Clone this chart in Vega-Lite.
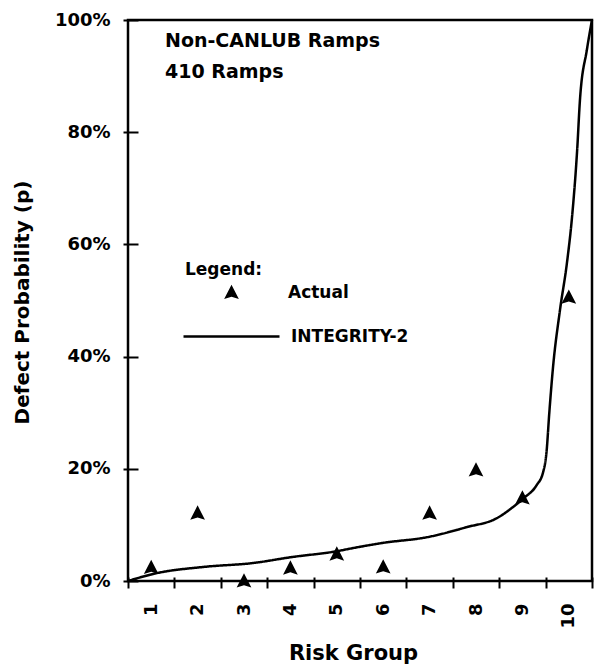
{
  "$schema": "https://vega.github.io/schema/vega-lite/v6.json",
  "width": 464,
  "height": 561,
  "autosize": {"type": "none"},
  "padding": {"left": 128, "top": 20, "right": 4, "bottom": 85},
  "background": "white",
  "config": {
    "font": "DejaVu Sans",
    "view": {"stroke": "black", "strokeWidth": 2.5},
    "axis": {
      "labelFont": "DejaVu Sans",
      "labelFontWeight": "bold",
      "labelFontSize": 18,
      "labelColor": "black",
      "titleFont": "DejaVu Sans",
      "titleFontWeight": "bold",
      "titleColor": "black",
      "tickColor": "black",
      "tickWidth": 2,
      "grid": false
    },
    "legend": {
      "labelFont": "DejaVu Sans",
      "labelFontWeight": "bold",
      "labelFontSize": 17,
      "labelColor": "black",
      "titleFont": "DejaVu Sans",
      "titleFontWeight": "bold",
      "titleFontSize": 17,
      "titleColor": "black",
      "padding": 0
    }
  },
  "title": {
    "text": ["Non-CANLUB Ramps", "410 Ramps"],
    "frame": "group",
    "anchor": "start",
    "orient": "top",
    "baseline": "top",
    "offset": -71,
    "dx": 37,
    "lineHeight": 31,
    "font": "DejaVu Sans",
    "fontSize": 19,
    "fontWeight": "bold",
    "color": "black"
  },
  "layer": [
    {
      "data": {
        "values": [
          {"risk_group": 0.5, "p": 0, "series": "INTEGRITY-2"},
          {"risk_group": 1.12, "p": 1.4, "series": "INTEGRITY-2"},
          {"risk_group": 2.12, "p": 2.5, "series": "INTEGRITY-2"},
          {"risk_group": 3.19, "p": 3.2, "series": "INTEGRITY-2"},
          {"risk_group": 4.06, "p": 4.3, "series": "INTEGRITY-2"},
          {"risk_group": 4.92, "p": 5.2, "series": "INTEGRITY-2"},
          {"risk_group": 5.5, "p": 6.1, "series": "INTEGRITY-2"},
          {"risk_group": 6.0, "p": 6.8, "series": "INTEGRITY-2"},
          {"risk_group": 6.94, "p": 7.8, "series": "INTEGRITY-2"},
          {"risk_group": 7.8, "p": 9.6, "series": "INTEGRITY-2"},
          {"risk_group": 8.45, "p": 11.2, "series": "INTEGRITY-2"},
          {"risk_group": 8.8, "p": 13.2, "series": "INTEGRITY-2"},
          {"risk_group": 9.05, "p": 14.9, "series": "INTEGRITY-2"},
          {"risk_group": 9.3, "p": 17.0, "series": "INTEGRITY-2"},
          {"risk_group": 9.45, "p": 19.5, "series": "INTEGRITY-2"},
          {"risk_group": 9.52, "p": 23.0, "series": "INTEGRITY-2"},
          {"risk_group": 9.58, "p": 30.0, "series": "INTEGRITY-2"},
          {"risk_group": 9.66, "p": 38.1, "series": "INTEGRITY-2"},
          {"risk_group": 9.81, "p": 48.3, "series": "INTEGRITY-2"},
          {"risk_group": 9.96, "p": 56.7, "series": "INTEGRITY-2"},
          {"risk_group": 10.07, "p": 64.9, "series": "INTEGRITY-2"},
          {"risk_group": 10.18, "p": 76.8, "series": "INTEGRITY-2"},
          {"risk_group": 10.24, "p": 85.7, "series": "INTEGRITY-2"},
          {"risk_group": 10.39, "p": 94.7, "series": "INTEGRITY-2"},
          {"risk_group": 10.5, "p": 100, "series": "INTEGRITY-2"}
        ]
      },
      "mark": {"type": "line", "color": "black", "strokeWidth": 2.5, "interpolate": "monotone"},
      "encoding": {
        "x": {
          "field": "risk_group",
          "type": "quantitative",
          "scale": {"domain": [0.5, 10.5], "nice": false, "zero": false},
          "axis": {
            "values": [1, 2, 3, 4, 5, 6, 7, 8, 9, 10],
            "format": "d",
            "orient": "bottom",
            "domain": false,
            "ticks": false,
            "tickSize": 0,
            "labelAngle": -90,
            "labelPadding": 22,
            "title": "Risk Group",
            "titleFontSize": 21,
            "titleX": 225,
            "titleY": 78,
            "titleBaseline": "alphabetic",
            "titleAlign": "center"
          }
        },
        "y": {
          "field": "p",
          "type": "quantitative",
          "scale": {"domain": [0, 100], "nice": false},
          "axis": {
            "values": [0, 20, 40, 60, 80, 100],
            "labelExpr": "datum.value + '%'",
            "orient": "left",
            "domain": false,
            "tickSize": 15,
            "offset": -10,
            "labelPadding": 13,
            "title": "Defect Probability (p)",
            "titleFontSize": 20,
            "titleAngle": -90,
            "titleX": -116,
            "titleY": 282,
            "titleAlign": "center",
            "titleBaseline": "middle"
          }
        },
        "strokeDash": {
          "field": "series",
          "type": "nominal",
          "scale": {"domain": ["INTEGRITY-2"], "range": [[1, 0]]},
          "legend": {
            "orient": "none",
            "legendX": 54,
            "legendY": 267,
            "title": null,
            "symbolType": "stroke",
            "symbolSize": 9216,
            "symbolStrokeColor": "black",
            "symbolStrokeWidth": 2.5,
            "labelOffset": 10
          }
        }
      }
    },
    {
      "data": {
        "values": [
          {"risk_group": 1, "p": 2.4, "series": "Actual"},
          {"risk_group": 2, "p": 12.1, "series": "Actual"},
          {"risk_group": 3, "p": 0, "series": "Actual"},
          {"risk_group": 4, "p": 2.3, "series": "Actual"},
          {"risk_group": 5, "p": 4.8, "series": "Actual"},
          {"risk_group": 6, "p": 2.5, "series": "Actual"},
          {"risk_group": 7, "p": 12.1, "series": "Actual"},
          {"risk_group": 8, "p": 19.8, "series": "Actual"},
          {"risk_group": 9, "p": 14.8, "series": "Actual"},
          {"risk_group": 10, "p": 50.6, "series": "Actual"}
        ]
      },
      "mark": {"type": "point", "filled": true, "color": "black", "opacity": 1, "size": 240},
      "encoding": {
        "x": {
          "field": "risk_group",
          "type": "quantitative",
          "axis": {
            "values": [0.5, 1.5, 2.5, 3.5, 4.5, 5.5, 6.5, 7.5, 8.5, 9.5, 10.5],
            "orient": "bottom",
            "labels": false,
            "domain": false,
            "tickSize": 11,
            "offset": -4,
            "title": null
          }
        },
        "y": {"field": "p", "type": "quantitative", "axis": null},
        "shape": {
          "field": "series",
          "type": "nominal",
          "scale": {"domain": ["Actual"], "range": ["M0,-1L0.95,0.85L0,0.55L-0.95,0.85Z"]},
          "legend": {
            "orient": "none",
            "legendX": 57,
            "legendY": 242,
            "title": "Legend:",
            "symbolSize": 240,
            "symbolOffset": 38,
            "symbolFillColor": "black",
            "symbolStrokeColor": "black",
            "symbolStrokeWidth": 0,
            "labelOffset": 48
          }
        }
      }
    }
  ],
  "resolve": {"axis": {"x": "independent", "y": "independent"}}
}
